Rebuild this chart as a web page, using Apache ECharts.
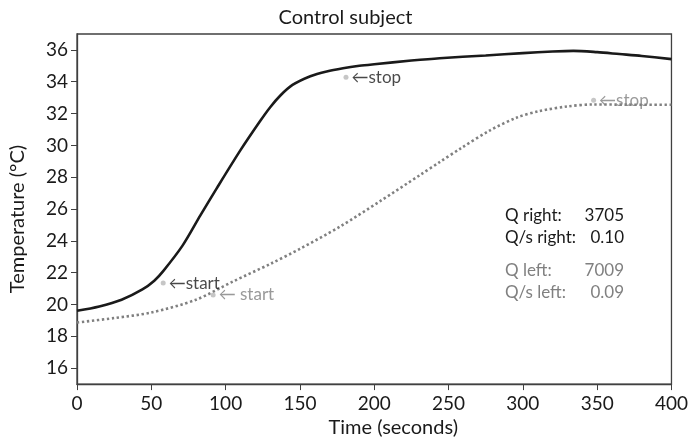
<!DOCTYPE html>
<html>
<head>
<meta charset="utf-8">
<title>Control subject</title>
<script src="https://cdn.jsdelivr.net/npm/echarts@6/dist/echarts.min.js"></script>
<style>
  html, body { margin: 0; padding: 0; background: #fff; }
  #chart { width: 691px; height: 443px; }
</style>
</head>
<body>
<div id="chart"></div>
<script>
// Skin temperature over time, right and left side
const timeRight = [0, 15, 30, 44, 52, 58, 71, 83, 94, 110, 123, 130, 137, 145, 157, 168, 179, 190, 200, 225, 244, 275, 300, 320, 334, 350, 365, 380, 400];
const tempRight = [19.61, 19.88, 20.3, 20.95, 21.5, 22.1, 23.7, 25.6, 27.3, 29.7, 31.5, 32.4, 33.15, 33.8, 34.35, 34.65, 34.85, 35.0, 35.1, 35.33, 35.48, 35.65, 35.8, 35.9, 35.94, 35.86, 35.74, 35.62, 35.42];

const timeLeft = [0, 25, 50, 80, 105, 130, 150, 177, 204, 231, 244, 258, 278, 296, 311, 330, 347, 370, 400];
const tempLeft = [18.87, 19.15, 19.5, 20.3, 21.45, 22.55, 23.5, 24.9, 26.5, 28.15, 28.95, 29.8, 30.95, 31.75, 32.15, 32.45, 32.57, 32.56, 32.55];

// Start / stop markers: [time, temperature, label]
const marksRight = [[58, 21.35, '\u2190start'], [181, 34.28, '\u2190stop']];
const marksLeft = [[91.6, 20.6, '\u2190 start'], [347.6, 32.84, '\u2190stop']];

// Heat summary
const statsRightLabels = ['Q right:', 'Q/s right:'];
const statsRightValues = ['3705', '0.10'];
const statsLeftLabels = ['Q left:', 'Q/s left:'];
const statsLeftValues = ['7009', '0.09'];

const xTicks = [0, 50, 100, 150, 200, 250, 300, 350, 400];
const yTicks = [16, 18, 20, 22, 24, 26, 28, 30, 32, 34, 36];

const FONT = 'Lato';
const DARK = '#1a1a1a';
const GREY = '#808080';

const zip = (xs, ys) => xs.map((x, i) => [x, ys[i]]);

function statTexts(labels, values, color, top) {
  const out = [];
  labels.forEach((t, i) => {
    out.push({ type: 'text', left: 505, top: top + i * 22,
      style: { text: t, fill: color, font: '17px ' + FONT } });
    out.push({ type: 'text', right: 691 - 624, top: top + i * 22,
      style: { text: values[i], fill: color, font: '17px ' + FONT, align: 'right' } });
  });
  return out;
}

const chart = echarts.init(document.getElementById('chart'), null, { renderer: 'canvas' });

chart.setOption({
  animation: false,
  backgroundColor: '#fff',
  textStyle: { fontFamily: FONT },
  title: {
    text: 'Control subject',
    left: 'center',
    top: 3,
    textStyle: { fontFamily: FONT, fontSize: 20, fontWeight: 'normal', color: DARK }
  },
  grid: {
    left: 77, top: 34, right: 19, bottom: 56,
    show: true, borderColor: '#404040', borderWidth: 1.3, backgroundColor: 'transparent'
  },
  xAxis: {
    type: 'value',
    min: 0, max: 400, interval: 50,
    name: 'Time (seconds)',
    nameLocation: 'middle',
    nameGap: 33,
    nameTextStyle: { fontFamily: FONT, fontSize: 20, color: DARK, padding: [0, 0, 0, 38] },
    axisLine: { show: true, lineStyle: { color: '#404040', width: 1.3 } },
    axisTick: { show: true, length: 6, inside: false, customValues: xTicks, lineStyle: { color: '#404040' } },
    axisLabel: { customValues: xTicks, fontFamily: FONT, fontSize: 19, color: DARK, margin: 10 },
    splitLine: { show: false }
  },
  yAxis: {
    type: 'value',
    min: 15, max: 37,
    name: 'Temperature (\u00B0C)',
    nameLocation: 'middle',
    nameGap: 49,
    nameTextStyle: { fontFamily: FONT, fontSize: 20, color: DARK, padding: [0, 20, 0, 0] },
    axisLine: { show: true, lineStyle: { color: '#404040', width: 1.3 } },
    axisTick: { show: true, length: 6, inside: false, customValues: yTicks, lineStyle: { color: '#404040' } },
    axisLabel: { customValues: yTicks, fontFamily: FONT, fontSize: 19, color: DARK, margin: 9 },
    splitLine: { show: false }
  },
  series: [
    {
      name: 'Right',
      type: 'line',
      data: zip(timeRight, tempRight),
      smooth: 0.3,
      showSymbol: false,
      lineStyle: { color: DARK, width: 2.6 },
      z: 3
    },
    {
      name: 'Left',
      type: 'line',
      data: zip(timeLeft, tempLeft),
      smooth: 0.3,
      showSymbol: false,
      lineStyle: { color: GREY, width: 2.6, type: [2.4, 2.6], cap: 'butt' },
      z: 2
    },
    {
      name: 'Right marks',
      type: 'scatter',
      data: marksRight,
      symbolSize: 5,
      itemStyle: { color: '#b8b8b8' },
      label: {
        show: true, position: 'right', distance: 3,
        formatter: p => p.data[2],
        fontFamily: FONT, fontSize: 17, color: DARK
      },
      z: 4
    },
    {
      name: 'Left marks',
      type: 'scatter',
      data: marksLeft,
      symbolSize: 5,
      itemStyle: { color: '#b8b8b8' },
      label: {
        show: true, position: 'right', distance: 3,
        formatter: p => p.data[2],
        fontFamily: FONT, fontSize: 17, color: GREY
      },
      z: 4
    }
  ],
  graphic: [
    ...statTexts(statsRightLabels, statsRightValues, DARK, 207),
    ...statTexts(statsLeftLabels, statsLeftValues, GREY, 262)
  ]
});
</script>
</body>
</html>
